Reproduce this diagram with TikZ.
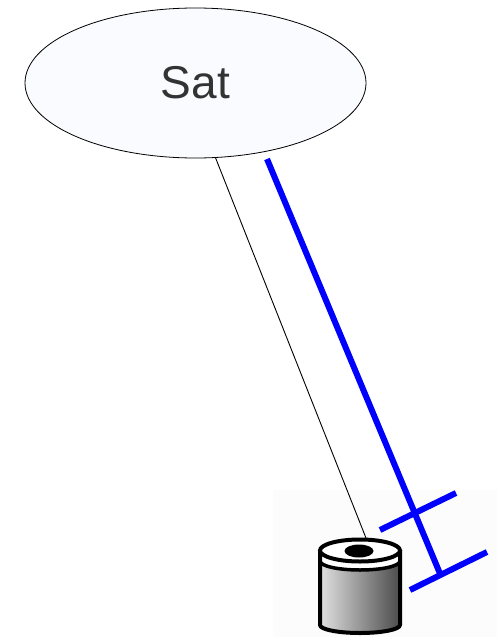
\documentclass[tikz,border=0pt]{standalone}
\usepackage{fontspec}
\setmainfont{Liberation Sans}
\usetikzlibrary{shapes.geometric}
\definecolor{ovalfill}{RGB}{250,251,255}
\definecolor{labelgray}{RGB}{51,51,51}
\definecolor{linkblue}{RGB}{0,0,255}
\definecolor{iconbg}{RGB}{252,252,252}
\definecolor{bodylight}{RGB}{225,225,225}
\definecolor{bodymid}{RGB}{160,160,160}
\definecolor{bodydark}{RGB}{75,75,75}
\tikzset{
  satnode/.style={ellipse, draw=black, line width=0.8pt, fill=ovalfill,
    minimum width=341, minimum height=150, inner sep=0pt,
    font=\fontsize{46}{46}\selectfont, text=labelgray},
  thinlink/.style={draw=black, line width=0.9pt},
  bluebar/.style={draw=linkblue, line width=6pt, line cap=butt},
  iconline/.style={draw=black, line width=4pt},
}
\begin{document}
\begin{tikzpicture}[x=1pt, y=-1pt]
  \useasboundingbox (0,0) rectangle (497,637);

  % faint backdrop behind the disk icon
  \fill[iconbg] (273,490) rectangle (497,637);

  % satellite oval
  \node[satnode] (sat) at (195.5,83) {Sat};

  % disk / host icon
  \coordinate (host) at (366,538);
  % body with side-to-side shading
  \shade[left color=bodylight, middle color=bodymid, right color=bodydark]
    (320,552) -- (320,625) arc[start angle=180, end angle=0, x radius=40, y radius=8]
    -- (400,552) -- cycle;
  % white rim band between the top face and the body
  \fill[white]
    (320,550) -- (320,561) arc[start angle=180, end angle=0, x radius=40, y radius=9]
    -- (400,550) -- cycle;
  \draw[line width=3.5pt]
    (320,561) arc[start angle=180, end angle=0, x radius=40, y radius=9];
  % outer silhouette
  \draw[iconline]
    (320,550) -- (320,625) arc[start angle=180, end angle=0, x radius=40, y radius=8]
    -- (400,550);
  % top face with centre hole
  \draw[iconline, fill=white] (360,550.5) ellipse[x radius=40, y radius=11];
  \fill[black] (359,551) ellipse[x radius=14.5, y radius=6.5];

  % thin link from the oval to the icon
  \draw[thinlink] (sat.-75) -- (host);

  % blue link with its two cross bars
  \coordinate (btop) at (267,159);
  \coordinate (bend) at (441,576);
  \coordinate (c1a) at (380,530);
  \coordinate (c1b) at (456,493);
  \coordinate (c2a) at (410,590);
  \coordinate (c2b) at (487,552);
  \draw[bluebar] (btop) -- (bend);
  \draw[bluebar] (c1a) -- (c1b);
  \draw[bluebar] (c2a) -- (c2b);
\end{tikzpicture}
\end{document}
